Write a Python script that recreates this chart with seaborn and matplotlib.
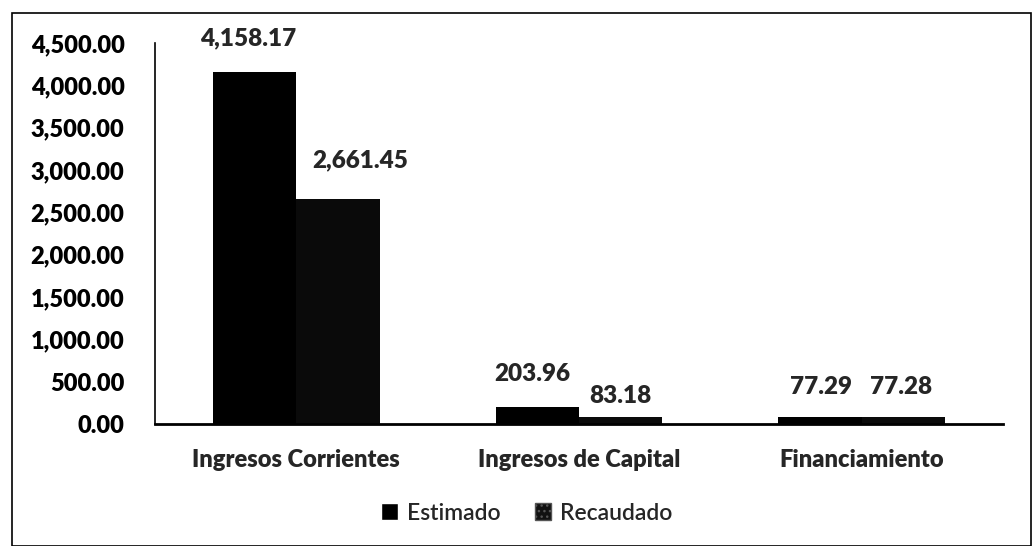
import matplotlib
matplotlib.use("Agg")
import matplotlib.pyplot as plt
import seaborn as sns
import pandas as pd
from matplotlib.patches import Rectangle, Patch
from matplotlib.ticker import FixedLocator, FuncFormatter

categories = ["Ingresos Corrientes", "Ingresos de Capital", "Financiamiento"]
series = ["Estimado", "Recaudado"]
estimado = [4158.17, 203.96, 77.29]
recaudado = [2661.45, 83.18, 77.28]
yticks = [0, 500, 1000, 1500, 2000, 2500, 3000, 3500, 4000, 4500]

# label offsets in points (style only), per series / per category
label_offsets = [[(-5, 16), (-4, 16), (1, 14)],
                 [(16, 20), (0, 7), (-2, 14)]]

df = pd.DataFrame({
    "cat": categories * 2,
    "serie": [series[0]] * 3 + [series[1]] * 3,
    "valor": estimado + recaudado,
})

sns.set_theme(style="white")
plt.rcParams["font.family"] = ["Lato", "DejaVu Sans"]

W = "heavy"

fig = plt.figure(figsize=(10.34, 5.46), dpi=100)
ax = fig.add_axes([155/1034, 1-424/546, (1003-155)/1034, (424-43)/546])

sns.barplot(data=df, x="cat", y="valor", hue="serie", order=categories,
            hue_order=series, palette=["#000000", "#0a0a0a"], width=0.59,
            ax=ax, legend=False, saturation=1, edgecolor="#000000", linewidth=0)

ax.set_ylim(0, 4500)
ax.set_xlim(-0.5, 2.5)
ax.yaxis.set_major_locator(FixedLocator(yticks))
ax.yaxis.set_major_formatter(FuncFormatter(lambda v, p: f"{v:,.2f}"))
ax.set_xlabel("")
ax.set_ylabel("")
for s in ["top", "right"]:
    ax.spines[s].set_visible(False)
ax.spines["left"].set_color("black")
ax.spines["left"].set_linewidth(1.2)
ax.spines["bottom"].set_color("black")
ax.spines["bottom"].set_linewidth(2)

ax.tick_params(axis="y", direction="out", length=7, width=1.2, colors="black",
               labelsize=17, pad=15)
for t in ax.get_yticklabels():
    t.set_fontweight(W)
ax.set_xticks([0, 1, 2])
ax.set_xticklabels(categories, fontsize=17, fontweight=W)
ax.tick_params(axis="x", length=0, pad=18)
ax.set_xticks([-0.5, 0.5, 1.5, 2.5], minor=True)
ax.tick_params(axis="x", which="minor", direction="out", length=8, width=1.2, colors="black")

for cont, vals, offs in zip(ax.containers, [estimado, recaudado], label_offsets):
    anns = ax.bar_label(cont, labels=[f"{v:,.2f}" for v in vals], padding=16,
                        fontsize=17.5, fontweight=W)
    for a, o in zip(anns, offs):
        a.xyann = o

handles = [Patch(facecolor="#000000"), Patch(facecolor="#111111", edgecolor="#555555", hatch="...")]
fig.legend(handles, series, loc="center", bbox_to_anchor=(527/1034, 1-513/546), ncol=2,
           frameon=False, prop={"size": 16.5, "weight": "semibold"},
           handlelength=0.72, handleheight=0.72,
           handletextpad=0.4, columnspacing=1.5)

fig.patches.append(Rectangle((12/1034, 0.0), (1031-12)/1034, 1-13/546,
                             transform=fig.transFigure, fill=False,
                             edgecolor="black", linewidth=1.2))

fig.savefig("out.png", dpi=100)
